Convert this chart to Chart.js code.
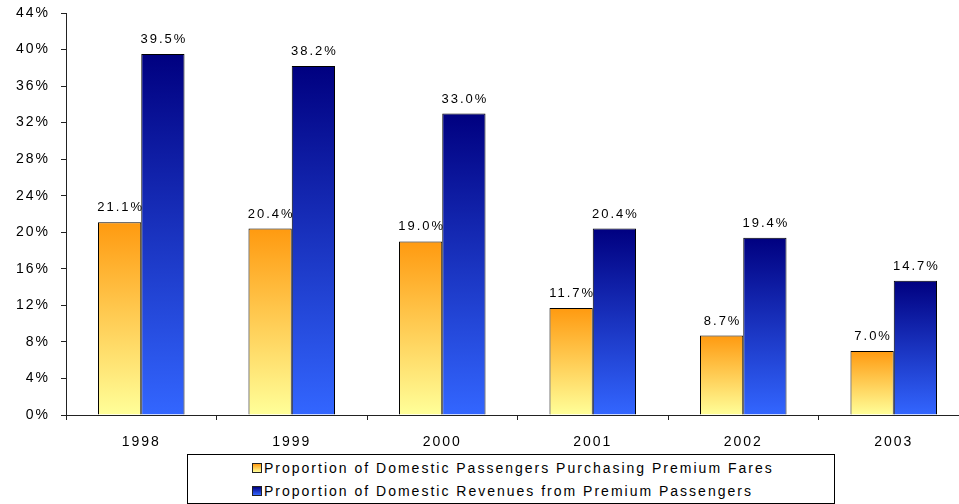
<!DOCTYPE html>
<html>
<head>
<meta charset="utf-8">
<script src="https://cdn.jsdelivr.net/npm/chart.js@4/dist/chart.umd.min.js"></script>
<style>
    html, body { margin: 0; padding: 0; background: #fff; overflow: hidden; }
    body { width: 959px; height: 504px; position: relative; font-family: "Liberation Sans", Arial, sans-serif; }
    #wrap { position: absolute; left: 0; top: 0; width: 975px; height: 455px; }
    .legend {
        position: absolute; left: 187px; top: 454px; width: 646px; height: 48px;
        border: 1px solid #000; background: #fff;
        font-size: 14px; letter-spacing: 2px; color: #000;
    }
    .legend .row { position: absolute; left: 64px; height: 16px; line-height: 16px; white-space: nowrap; }
    .legend .row i { display: inline-block; width: 8px; height: 8px; border: 1px solid #222; margin-right: 2px; vertical-align: 0px; }
</style>
</head>
<body>
<div id="wrap"><canvas id="chart" width="975" height="455"></canvas></div>
<div class="legend">
    <div class="row" style="top:5px"><i style="background:linear-gradient(#ff9a10,#ffff99)"></i>Proportion of Domestic Passengers Purchasing Premium Fares</div>
    <div class="row" style="top:28px"><i style="background:linear-gradient(#000080,#3366ff)"></i>Proportion of Domestic Revenues from Premium Passengers</div>
</div>
<script>
// Chart data
const years = ['1998', '1999', '2000', '2001', '2002', '2003'];
const passengersPremium = [21.1, 20.4, 19.0, 11.7, 8.7, 7.0];
const revenuesPremium = [39.5, 38.2, 33.0, 20.4, 19.4, 14.7];
const seriesNames = [
    'Proportion of Domestic Passengers Purchasing Premium Fares',
    'Proportion of Domestic Revenues from Premium Passengers'
];

const FONT = { family: '"Liberation Sans", Arial, sans-serif', size: 14 };

// vertical gradient spanning a single bar, from its top down to the axis
function barGradient(topColor, bottomColor) {
    return function(context) {
        const chart = context.chart;
        const y = chart.scales.y;
        if (!y || !chart.chartArea || context.raw === undefined) return bottomColor;
        const top = y.getPixelForValue(context.raw);
        const base = y.getPixelForValue(0);
        const g = chart.ctx.createLinearGradient(0, top, 0, base);
        g.addColorStop(0, topColor);
        g.addColorStop(1, bottomColor);
        return g;
    };
}

// wider text like the original
const spacingPlugin = {
    id: 'spacing',
    beforeUpdate(chart) { chart.ctx.letterSpacing = '2px'; },
    beforeDraw(chart) { chart.ctx.letterSpacing = '2px'; }
};

// value labels above bars
const valueLabels = {
    id: 'valueLabels',
    afterDatasetsDraw(chart) {
        const ctx = chart.ctx;
        ctx.save();
        ctx.letterSpacing = '2px';
        ctx.font = '13px "Liberation Sans", Arial, sans-serif';
        ctx.fillStyle = '#000';
        ctx.textAlign = 'center';
        ctx.textBaseline = 'alphabetic';
        chart.data.datasets.forEach((ds, i) => {
            chart.getDatasetMeta(i).data.forEach((el, j) => {
                ctx.fillText(ds.data[j].toFixed(1) + '%', el.x + 1, el.y - 11);
            });
        });
        ctx.restore();
    }
};

new Chart(document.getElementById('chart'), {
    type: 'bar',
    data: {
        labels: years,
        datasets: [
            {
                label: seriesNames[0],
                data: passengersPremium,
                backgroundColor: barGradient('#ff9a10', '#ffff99'),
                borderColor: '#000',
                borderWidth: 1
            },
            {
                label: seriesNames[1],
                data: revenuesPremium,
                backgroundColor: barGradient('#000080', '#3366ff'),
                borderColor: '#000',
                borderWidth: 1
            }
        ]
    },
    options: {
        responsive: false,
        animation: false,
        devicePixelRatio: 1,
        layout: { padding: { top: 13, right: 6, left: 0, bottom: 0 } },
        datasets: { bar: { categoryPercentage: 0.575, barPercentage: 1 } },
        plugins: {
            legend: { display: false },
            tooltip: { enabled: false }
        },
        scales: {
            x: {
                grid: { drawOnChartArea: false, tickLength: 5, color: '#222', offset: true },
                border: { color: '#222', width: 1 },
                ticks: { color: '#000', font: FONT, padding: 14, maxRotation: 0 },
                afterFit(scale) { scale.height = 40; }
            },
            y: {
                min: 0,
                max: 44,
                grid: { drawOnChartArea: false, tickLength: 5, color: '#222' },
                border: { color: '#222', width: 1 },
                ticks: {
                    stepSize: 4,
                    color: '#000',
                    font: FONT,
                    padding: 11,
                    callback: v => v + '%'
                },
                afterFit(scale) {
                    scale.width = 66;
                    scale.paddingTop = 0;
                    scale.paddingBottom = 0;
                }
            }
        }
    },
    plugins: [spacingPlugin, valueLabels]
});
</script>
</body>
</html>
